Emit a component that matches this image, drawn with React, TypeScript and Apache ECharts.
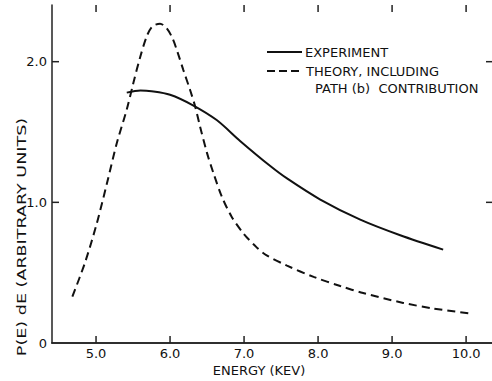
import React, { useEffect, useRef } from "react";
import * as echarts from "echarts";

// Theory (dashed), including path (b) contribution
const theoryE = [4.68, 4.85, 5.01, 5.145, 5.28, 5.415, 5.505, 5.595, 5.685, 5.76, 5.865, 5.95, 6.03, 6.1, 6.18, 6.27, 6.34, 6.405, 6.5, 6.585, 6.7, 6.83, 6.99, 7.17, 7.3, 7.58, 7.94, 8.3, 8.61, 9.15, 9.56, 10.05];
const theoryV = [0.33, 0.57, 0.85, 1.13, 1.42, 1.66, 1.85, 2.03, 2.18, 2.25, 2.27, 2.24, 2.17, 2.07, 1.94, 1.8, 1.68, 1.54, 1.35, 1.21, 1.04, 0.9, 0.78, 0.68, 0.625, 0.55, 0.47, 0.405, 0.355, 0.285, 0.245, 0.21];

// Experiment (solid)
const expE = [5.415, 5.6, 5.75, 6.0, 6.31, 6.63, 6.95, 7.35, 7.58, 8.03, 8.57, 9.11, 9.69];
const expV = [1.78, 1.795, 1.79, 1.765, 1.69, 1.585, 1.435, 1.26, 1.17, 1.02, 0.877, 0.766, 0.664];

const xTicks = [5, 6, 7, 8, 9, 10];
const yTicks = [0, 1, 2];
const yInnerTicks = [1, 2];

const xName = "ENERGY (KEV)";
const yName = "P(E) dE (ARBITRARY UNITS)";
const legendExp = "EXPERIMENT";
const legendTheory1 = "THEORY, INCLUDING";
const legendTheory2 = "PATH (b)  CONTRIBUTION";

const FONT = "DejaVu Sans";
const INK = "#111";
const AXIS = "#222";

export default function App() {
  const ref = useRef<HTMLDivElement>(null);
  useEffect(() => {
    document.body.style.margin = "0";
    const chart = echarts.init(ref.current!, null, { renderer: "svg" });
    const axisLine = { show: true, lineStyle: { color: AXIS, width: 1.5 } };
    const labelStyle = { fontFamily: FONT, fontSize: 13, color: INK };
    chart.setOption({
      animation: false,
      backgroundColor: "#fff",
      grid: { left: 52, right: 0, top: 5, bottom: 38 },
      xAxis: [
        {
          type: "value",
          position: "bottom",
          min: 4.405,
          max: 10.35,
          axisLine,
          axisTick: { show: false },
          axisLabel: { ...labelStyle, margin: 4, customValues: xTicks, formatter: (v: number) => v.toFixed(1) },
          splitLine: { show: false },
        },
        {
          type: "value",
          position: "top",
          min: 4.405,
          max: 10.35,
          axisLine,
          axisTick: { show: false },
          axisLabel: { show: false },
          splitLine: { show: false },
        },
      ],
      yAxis: [
        {
          type: "value",
          position: "left",
          min: 0,
          max: 2.403,
          axisLine,
          axisTick: { show: false },
          axisLabel: { ...labelStyle, margin: 5, customValues: yTicks, formatter: (v: number) => (v === 0 ? "0" : v.toFixed(1)) },
          splitLine: { show: false },
        },
        {
          type: "value",
          position: "right",
          min: 0,
          max: 2.403,
          axisLine: { show: false },
          axisTick: { show: false },
          axisLabel: { show: false },
          splitLine: { show: false },
        },
      ],
      series: [
        {
          name: "Experiment",
          type: "line",
          xAxisIndex: 0,
          yAxisIndex: 0,
          data: expE.map((e, i) => [e, expV[i]]),
          symbol: "none",
          smooth: 0.3,
          lineStyle: { color: INK, width: 2 },
        },
        {
          name: "Theory",
          type: "line",
          xAxisIndex: 0,
          yAxisIndex: 0,
          data: theoryE.map((e, i) => [e, theoryV[i]]),
          symbol: "none",
          smooth: 0.3,
          lineStyle: { color: INK, width: 2, type: [8, 5] },
        },
      ],
    });

    // Tick marks (inside) placed through the axes' own scales
    const px = (v: number) => chart.convertToPixel({ xAxisIndex: 0 }, v) as number;
    const py = (v: number) => chart.convertToPixel({ yAxisIndex: 0 }, v) as number;
    const yBottom = py(0);
    const yTop = py(2.403);
    const xLeft = px(4.405);
    const xRight = px(10.35);
    const tickStyle = { stroke: AXIS, lineWidth: 1.5 };
    const ticks: any[] = [];
    xTicks.forEach((t) => {
      const x = px(t);
      ticks.push({ type: "line", shape: { x1: x, y1: yBottom, x2: x, y2: yBottom - 7 }, style: tickStyle, silent: true });
      ticks.push({ type: "line", shape: { x1: x, y1: yTop, x2: x, y2: yTop + 7 }, style: tickStyle, silent: true });
    });
    yInnerTicks.forEach((t) => {
      const y = py(t);
      ticks.push({ type: "line", shape: { x1: xLeft, y1: y, x2: xLeft + 7, y2: y }, style: tickStyle, silent: true });
      ticks.push({ type: "line", shape: { x1: xRight, y1: y, x2: xRight - 6, y2: y }, style: tickStyle, silent: true });
    });

    chart.setOption({
      graphic: [
        ...ticks,
        { type: "line", shape: { x1: 267, y1: 52, x2: 302, y2: 52 }, style: { stroke: INK, lineWidth: 2 } },
        { type: "text", x: 305, y: 52, style: { text: legendExp, fill: INK, font: `13px ${FONT}`, textAlign: "left", verticalAlign: "middle" } },
        { type: "line", shape: { x1: 267, y1: 71, x2: 302, y2: 71 }, style: { stroke: INK, lineWidth: 2, lineDash: [8, 4] } },
        { type: "text", x: 306, y: 71, style: { text: legendTheory1, fill: INK, font: `13px ${FONT}`, textAlign: "left", verticalAlign: "middle" } },
        { type: "text", x: 315, y: 88, style: { text: legendTheory2, fill: INK, font: `13px ${FONT}`, textAlign: "left", verticalAlign: "middle" } },
        { type: "text", x: 259, y: 370, style: { text: xName, fill: INK, font: `13px ${FONT}`, textAlign: "center", verticalAlign: "middle" } },
        { type: "text", x: 22, y: 237, rotation: Math.PI / 2, scaleX: 1.35, style: { text: yName, fill: INK, font: `13px ${FONT}`, textAlign: "center", verticalAlign: "middle" } },
      ],
    });
    return () => chart.dispose();
  }, []);
  return <div ref={ref} style={{ width: 492, height: 381 }} />;
}
